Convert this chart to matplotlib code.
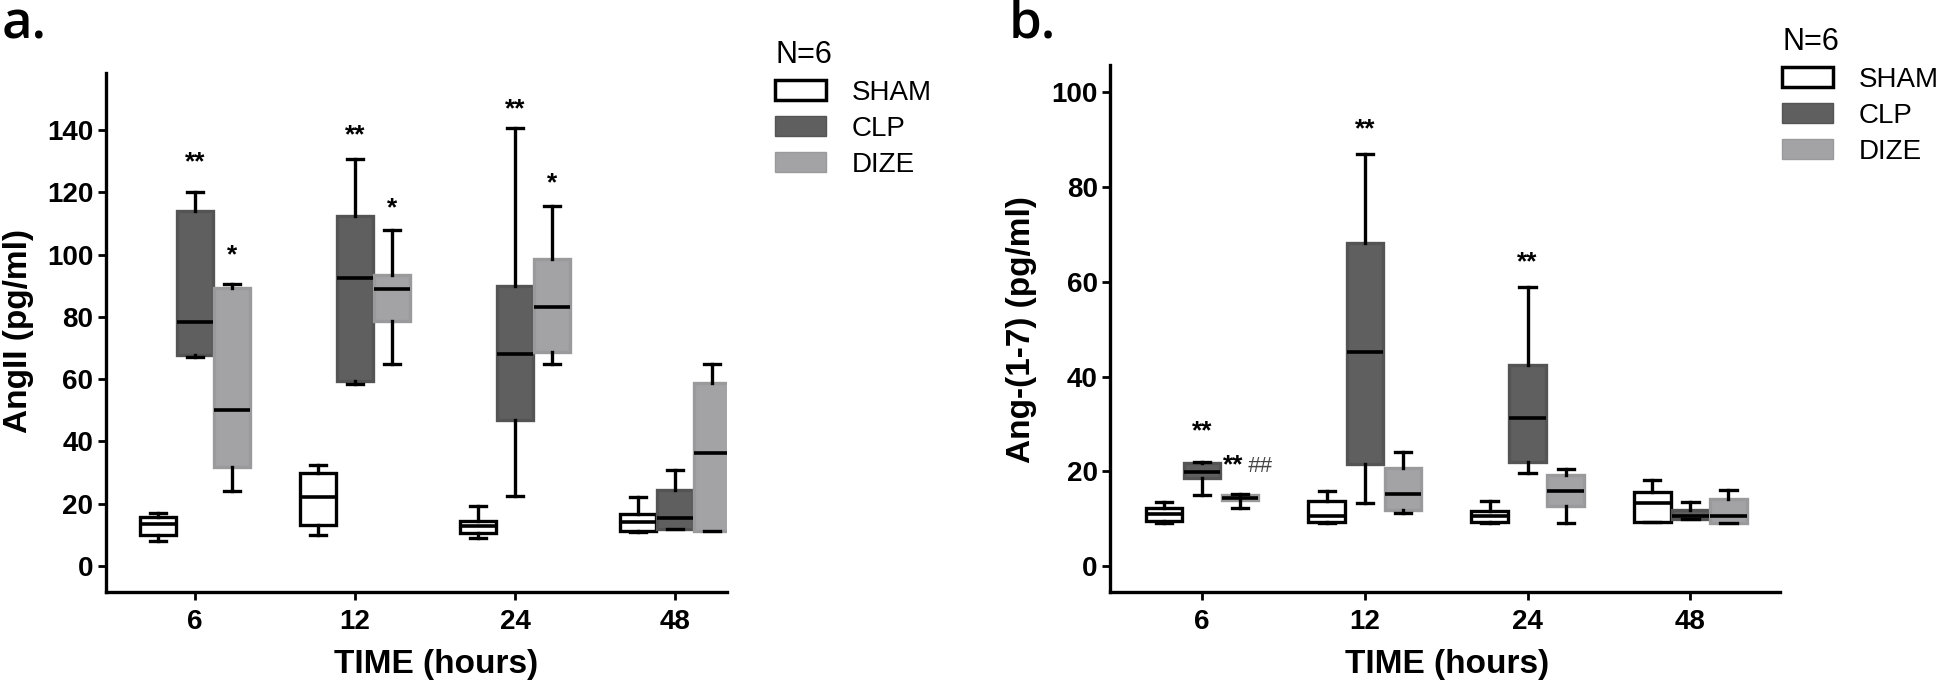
import matplotlib
matplotlib.use("Agg")
import matplotlib.pyplot as plt
from matplotlib.patches import Patch
import numpy as np

plt.rcParams['font.family'] = ['Liberation Sans', 'DejaVu Sans']

times = ['6', '12', '24', '48']
groups = ['SHAM', 'CLP', 'DIZE']

# box stats per time point: [whisker low, Q1, median, Q3, whisker high]
angii_sham = [[7.9, 9.9, 13.5, 15.8, 17.1], [9.9, 13.1, 22.2, 29.8, 32.5],
              [8.9, 10.7, 12.7, 14.4, 19.1], [11.0, 11.1, 14.1, 16.6, 22.2]]
angii_clp = [[67.2, 67.7, 78.3, 113.9, 120.1], [58.4, 59.3, 92.3, 112.3, 130.7],
             [22.6, 46.7, 67.9, 89.9, 140.7], [12.0, 12.0, 15.4, 24.3, 30.8]]
angii_dize = [[24.0, 31.9, 50.2, 89.3, 90.5], [64.9, 78.6, 88.9, 93.4, 108.0],
              [64.9, 68.7, 83.0, 98.6, 115.7], [11.1, 11.1, 36.1, 58.6, 64.7]]

ang17_sham = [[9.1, 9.6, 10.9, 12.2, 13.6], [9.1, 9.4, 10.6, 13.7, 15.8],
              [9.1, 9.3, 10.5, 11.6, 13.8], [9.4, 9.4, 13.4, 15.6, 18.2]]
ang17_clp = [[15.1, 18.6, 19.9, 21.7, 22.0], [13.4, 21.6, 45.1, 68.2, 87.0],
             [19.7, 21.9, 31.3, 42.4, 58.9], [9.9, 9.9, 10.6, 11.8, 13.6]]
ang17_dize = [[12.3, 13.9, 14.4, 15.1, 15.3], [11.2, 11.8, 15.3, 20.6, 24.1],
              [9.1, 12.6, 15.8, 19.2, 20.4], [9.1, 9.1, 10.6, 14.1, 16.0]]

# significance marks: (time index, group index, text, y baseline)
angii_marks = [(0, 1, '**', 127.5), (0, 2, '*', 97.5), (1, 1, '**', 136),
               (1, 2, '*', 112.5), (2, 1, '**', 144.5), (2, 2, '*', 120.5)]
ang17_marks = [(0, 1, '**', 27.0), (1, 1, '**', 90.8), (2, 1, '**', 62.6)]

face = ['white', '#5f5f5f', '#a3a3a6']
edge = ['black', '#545454', '#9a9a9d']
offsets = [-0.234, 0.0, 0.234]


def to_stats(rows):
    return [dict(whislo=r[0], q1=r[1], med=r[2], q3=r[3], whishi=r[4], fliers=[])
            for r in rows]


def draw_panel(ax, data, ylim, yticks):
    x = np.arange(len(times))
    for g, rows in enumerate(data):
        ax.bxp(to_stats(rows), positions=x + offsets[g], widths=0.225,
               patch_artist=True, showfliers=False, manage_ticks=False,
               capwidths=0.1,
               boxprops=dict(facecolor=face[g], edgecolor=edge[g], linewidth=2.4),
               medianprops=dict(color='black', linewidth=2.6),
               whiskerprops=dict(color='black', linewidth=2.4),
               capprops=dict(color='black', linewidth=2.4))
    ax.set_ylim(*ylim)
    ax.set_yticks(yticks)
    ax.set_xticks(x)
    ax.set_xticklabels(times)
    for s in ['top', 'right']:
        ax.spines[s].set_visible(False)
    for s in ['left', 'bottom']:
        ax.spines[s].set_linewidth(2.4)
    ax.tick_params(width=2, length=6, labelsize=20)
    ax.tick_params(axis='x', pad=6)
    ax.tick_params(axis='y', pad=3)
    for lab in ax.get_xticklabels() + ax.get_yticklabels():
        lab.set_fontweight('bold')


fig = plt.figure(figsize=(19.44, 6.89), dpi=100)
axa = fig.add_axes([0.0544, 0.1403, 0.3196, 0.7533])
axb = fig.add_axes([0.5711, 0.1403, 0.3445, 0.7654])

draw_panel(axa, [angii_sham, angii_clp, angii_dize], (-8.5, 158.2), range(0, 141, 20))
axa.set_xlim(-0.558, 3.325)
draw_panel(axb, [ang17_sham, ang17_clp, ang17_dize], (-5.55, 105.8), range(0, 101, 20))
axb.set_xlim(-0.564, 3.55)

for ax, marks in [(axa, angii_marks), (axb, ang17_marks)]:
    for t, g, txt, y in marks:
        ax.text(t + offsets[g], y, txt, ha='center', va='baseline',
                fontsize=19, fontweight='bold')
axb.text(0 + offsets[2] - 0.04, 19.8, '**', ha='center', va='baseline',
         fontsize=19, fontweight='bold')
axb.text(0 + offsets[2] + 0.12, 19.8, '##', ha='center', va='baseline',
         fontsize=16, color='#444444', style='italic')

fig.text(0.0093, 0.519, 'AngII (pg/ml)', rotation=90, ha='center', va='center',
         fontsize=24, fontweight='bold')
fig.text(0.5253, 0.522, 'Ang-(1-7) (pg/ml)', rotation=90, ha='center', va='center',
         fontsize=24, fontweight='bold')
fig.text(0.2243, 0.035, 'TIME (hours)', ha='center', va='center',
         fontsize=24, fontweight='bold')
fig.text(0.7443, 0.035, 'TIME (hours)', ha='center', va='center',
         fontsize=24, fontweight='bold')

fig.text(0.001, 0.944, 'a.', fontsize=38, family='Open Sans', fontweight='semibold',
         va='baseline')
fig.text(0.519, 0.946, 'b.', fontsize=38, family='Open Sans', fontweight='semibold',
         va='baseline')

handles = [Patch(facecolor=face[i], edgecolor='black' if i == 0 else edge[i],
                 linewidth=2.5 if i == 0 else 1.0, label=groups[i])
           for i in range(3)]
for anchor in [(775 / 1944, 1 - 40 / 689), (1782 / 1944, 1 - 27 / 689)]:
    leg = fig.legend(handles=handles, title='N=6', loc='upper left',
                     bbox_to_anchor=anchor, frameon=False, fontsize=20,
                     title_fontsize=22, handlelength=1.83, handleheight=0.72,
                     handletextpad=0.93, labelspacing=0.36, borderpad=0,
                     borderaxespad=0)
    leg._legend_box.align = 'left'

fig.savefig('out.png', dpi=100, facecolor='white')
